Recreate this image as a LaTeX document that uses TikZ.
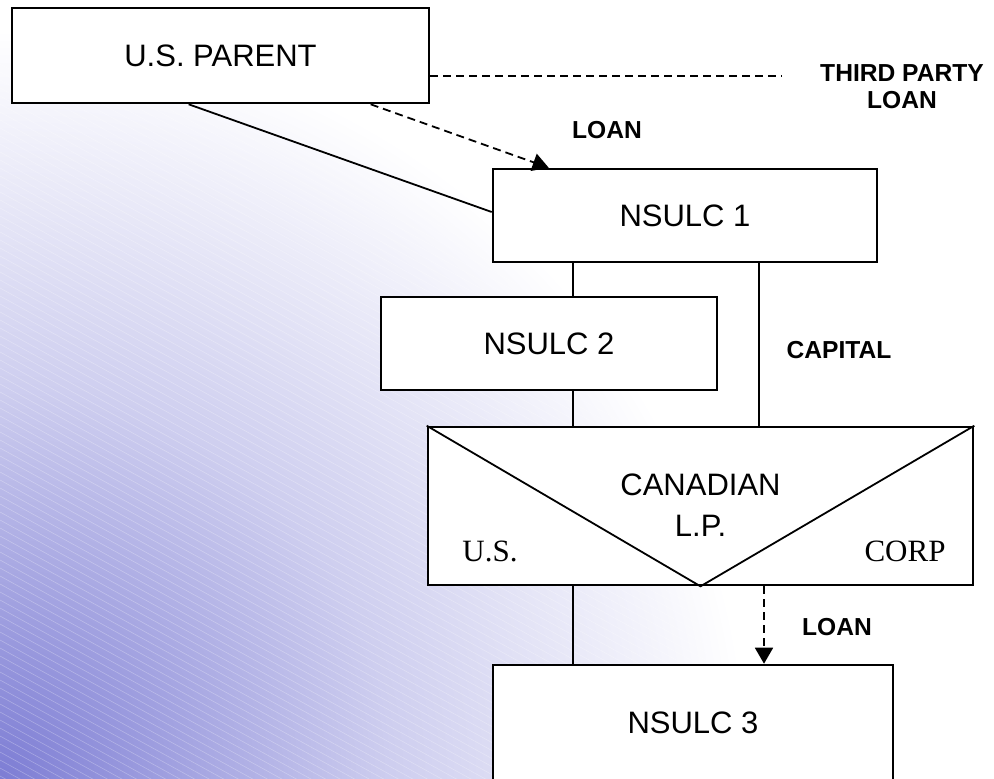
\documentclass[tikz,border=0pt]{standalone}
\usepackage{fontspec}
\setmainfont{Liberation Sans}
\newfontfamily\serifface{Liberation Serif}
\usetikzlibrary{arrows.meta}
\definecolor{lavdark}{RGB}{125,125,212}
\definecolor{lavmid}{RGB}{206,206,239}
\definecolor{lavlight}{RGB}{234,234,247}
\pgfdeclareradialshading{bgfade}{\pgfpoint{0bp}{0bp}}{color(0bp)=(lavdark); color(11bp)=(lavmid); color(21bp)=(white); color(29bp)=(white); color(44bp)=(lavlight); color(50bp)=(lavlight)}

\begin{document}
\begin{tikzpicture}[x=0.5pt,y=-0.5pt,
  box/.style={draw,rectangle,fill=white,line width=1.3pt,inner sep=0pt,font=\fontsize{15.5}{19}\selectfont,align=center},
  tag/.style={inner sep=0pt,font=\fontsize{12.3}{13.5}\selectfont\bfseries,align=center},
  side/.style={inner sep=0pt,font=\fontsize{15.5}{18}\selectfont\serifface},
  link/.style={line width=0.9pt},
  loan/.style={line width=0.9pt,dash pattern=on 4pt off 2.5pt},
  >={Triangle[length=8pt,width=9pt]}]

%background
\begin{scope}
  \clip (0,0) rectangle (994,778);
  \shade[shading=bgfade] (0,778) circle (891);
  \foreach \k in {-100,...,98}{
    \draw[white,opacity=0.28,line width=0.3pt] (0,\k*8) -- ++(1400,770);
  }
\end{scope}
\useasboundingbox (0,0) rectangle (994,778);

%boxes
\node (parent) at (220.5,55.5) [box,minimum width=208.5pt,minimum height=47.5pt] {U.S. PARENT};
\node (n1) at (685,215.5) [box,minimum width=192pt,minimum height=46.5pt] {NSULC 1};
\node (n2) at (549,343.5) [box,minimum width=168pt,minimum height=46.5pt] {NSULC 2};
\node (lp) at (700.5,506) [box,minimum width=272.5pt,minimum height=79pt] {};
\node (n3) at (693,723) [box,minimum width=200pt,minimum height=58pt] {NSULC 3};

%partnership inside
\draw[link] (lp.north west) -- (lp.south) -- (lp.north east);
\node (lpname) at (700.5,505) [box,draw=none,fill=none,font=\fontsize{15.5}{20.5}\selectfont] {CANADIAN\\L.P.};
\node (us) at (490,551) [side] {U.S.};
\node (corp) at (905,551) [side] {CORP};

%ownership lines
\draw[link] ([xshift=89pt]parent.south west) -- ([yshift=1.75pt]n1.west);
\draw[link] ([xshift=12pt]n2.north) -- ([xshift=12pt]n2.north |- n1.south);
\draw[link] ([xshift=12pt]n2.south) -- ([xshift=12pt]n2.south |- lp.north);
\draw[link] ([xshift=37pt]n1.south) -- ([xshift=37pt]n1.south |- lp.north);
\draw[link] ([xshift=-60pt]n3.north) -- ([xshift=-60pt]n3.north |- lp.south);

%loans
\coordinate (tpend) at (782,76);
\draw[loan] ([yshift=-10.25pt]parent.east) -- (tpend);
\draw[loan,->] ([xshift=180pt]parent.south west) -- ([xshift=28.5pt]n1.north west);
\draw[loan,->] ([xshift=35.5pt]n3.north |- lp.south) -- ([xshift=35.5pt]n3.north);

%labels
\node (tpl) at (902,86.5) [tag] {THIRD PARTY\\LOAN};
\node (loan1) at (607,130) [tag] {LOAN};
\node (cap) at (839,350) [tag] {CAPITAL};
\node (loan2) at (837,627) [tag] {LOAN};
\end{tikzpicture}
\end{document}
